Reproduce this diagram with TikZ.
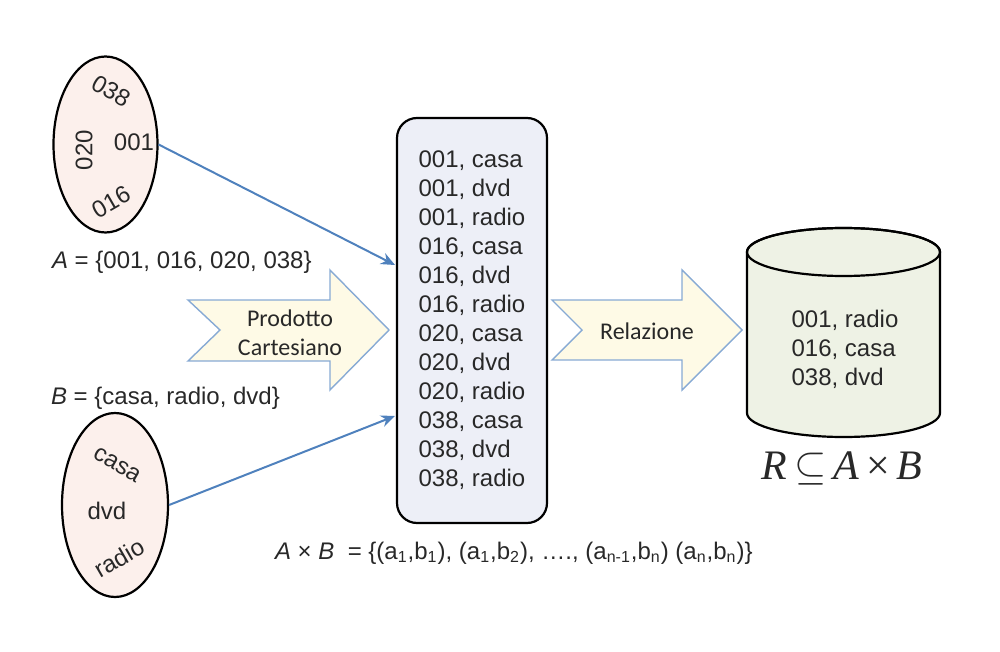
\documentclass[tikz,border=0pt]{standalone}
\usepackage{fontspec}
\setmainfont{Liberation Sans}
\newfontfamily\carlito{Carlito}
\newfontfamily\timesfont{Liberation Serif}
\usepackage{tikz}
\usepackage{xcolor}
\usetikzlibrary{shapes.geometric,arrows.meta}

\definecolor{setfill}{RGB}{252,240,236}
\definecolor{boxfill}{RGB}{237,239,247}
\definecolor{dbfill}{RGB}{238,242,229}
\definecolor{bigfill}{RGB}{254,250,230}
\definecolor{bigline}{RGB}{135,170,212}
\definecolor{linkblue}{RGB}{79,129,189}
\definecolor{txt}{RGB}{40,40,40}

\begin{document}
\begin{tikzpicture}[x=0.5pt,y=-0.5pt,
    every node/.style={text=txt,font=\fontsize{12}{14.5}\selectfont},
    setnode/.style={draw,ellipse,fill=setfill,line width=1.1pt,minimum width=52pt,minimum height=88pt},
    settext/.style={inner sep=1pt},
    link/.style={draw=linkblue,line width=1pt,-{Stealth[length=7pt,width=6pt]}},
    bigarrow/.style={fill=bigfill,draw=bigline,line width=0.7pt},
    arrowtext/.style={font=\carlito\fontsize{12}{14.5}\selectfont,align=center}]
    \useasboundingbox (0,0) rectangle (1000,652);

    % Set A
    \node[setnode] (setA) at (105.5,144.5) {};
    \node[settext,rotate=-30] (a038) at (111,91) {038};
    \node[settext] (a001) at (134,142) {001};
    \node[settext,rotate=90] (a020) at (84,150) {020};
    \node[settext,rotate=30] (a016) at (111,202) {016};
    \node[anchor=west] (labA) at (45,262) {\textit{A} = \{001, 016, 020, 038\}};

    % Set B
    \node[setnode,minimum width=53pt,minimum height=92pt] (setB) at (115,505) {};
    \node[settext,rotate=-30] (bcasa) at (117,465) {casa};
    \node[settext] (bdvd) at (107,511) {dvd};
    \node[settext,rotate=30] (bradio) at (119,558) {radio};
    \node[anchor=west] (labB) at (44,398) {\textit{B} = \{casa, radio, dvd\}};

    % Cartesian product
    \draw[bigarrow] (188,300) -- (330,300) -- (330,270) -- (389,330) -- (330,390)
        -- (330,361) -- (188,361) -- (220,330) -- cycle;
    \node[arrowtext] (cart) at (290,333) {Prodotto\\Cartesiano};

    \node[draw,fill=boxfill,rounded corners=10pt,line width=1.1pt,
        minimum width=75pt,minimum height=202.5pt,align=left] (prod) at (472,320.5)
        {001, casa\\001, dvd\\001, radio\\016, casa\\016, dvd\\016, radio\\
         020, casa\\020, dvd\\020, radio\\038, casa\\038, dvd\\038, radio};
    \node[anchor=west] (prodeq) at (268,553)
        {\textit{A} × \textit{B}\ \ = \{(a\textsubscript{1},b\textsubscript{1}), (a\textsubscript{1},b\textsubscript{2}), …., (a\textsubscript{n-1},b\textsubscript{n}) (a\textsubscript{n},b\textsubscript{n})\}};

    % Links
    \coordinate (inA) at (395,265);
    \coordinate (inB) at (395,416);
    \draw[link] (setA.east) -- (inA);
    \draw[link] (setB.east) -- (inB);

    % Relation
    \draw[bigarrow] (552,300) -- (682,300) -- (682,270) -- (742,330) -- (682,390)
        -- (682,360) -- (552,360) -- (582,330) -- cycle;
    \node[arrowtext] (relz) at (647,331) {Relazione};

    \path[draw,fill=dbfill,line width=1.1pt] (747,252) -- (747,413)
        arc[start angle=180,end angle=360,x radius=48.25pt,y radius=12pt]
        -- (940,252)
        arc[start angle=0,end angle=180,x radius=48.25pt,y radius=12pt] -- cycle;
    \draw[line width=1.1pt] (843.5,252) ellipse[x radius=48.25pt,y radius=12pt];
    \node[align=left] (rel) at (845,349) {001, radio\\016, casa\\038, dvd};
    \node[font=\timesfont\fontsize{21}{25}\selectfont] (rsub) at (842,468)
        {\textit{R}\,$\subseteq$\,\textit{A}\,×\,\textit{B}};
\end{tikzpicture}
\end{document}
